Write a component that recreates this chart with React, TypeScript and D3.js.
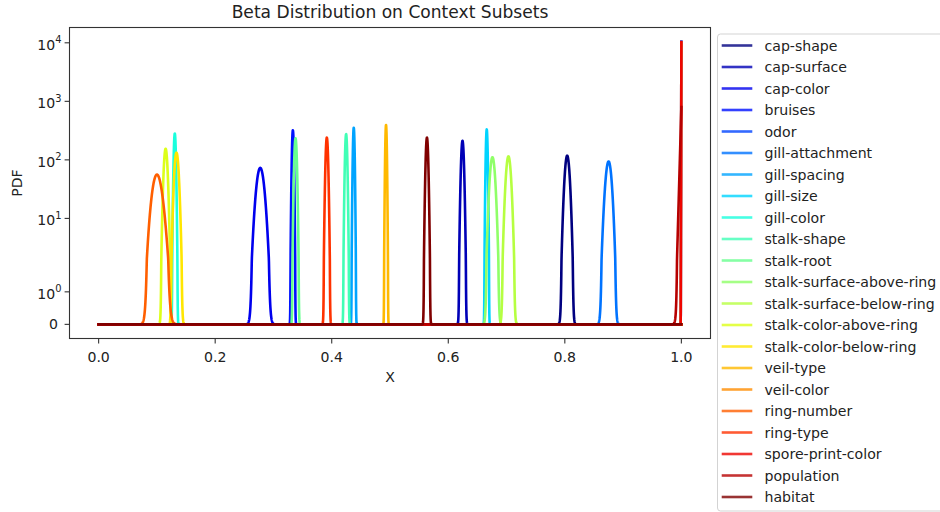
import React, { useMemo } from 'react';
import * as d3 from 'd3';

// ---- Data (Beta distribution parameters) ----
const features = [
  'cap-shape', 'cap-surface', 'cap-color', 'bruises', 'odor', 'gill-attachment',
  'gill-spacing', 'gill-size', 'gill-color', 'stalk-shape', 'stalk-root',
  'stalk-surface-above-ring', 'stalk-surface-below-ring', 'stalk-color-above-ring',
  'stalk-color-below-ring', 'veil-type', 'veil-color', 'ring-number', 'ring-type',
  'spore-print-color', 'population', 'habitat',
];
const alphas = [11085, 41353, 1862, 47950, 10470, 5313, 85325, 101985, 7420, 49306, 26009,
  11462, 12196, 1767, 1719, 120853, 10000, 179, 33766, 10300, 800, 50155];
const betas = [2702, 24875, 4850, 95910, 1, 759, 109571, 51145, 49350, 66791, 50962,
  5499, 5147, 13596, 11146, 124185, 1, 1602, 52459, 1, 1, 38867];

const xTicks = [0, 0.2, 0.4, 0.6, 0.8, 1.0];
const xTickLabels = ['0.0', '0.2', '0.4', '0.6', '0.8', '1.0'];
const yTicks = [0, 1, 10, 100, 1000, 10000];
const yTickBase = ['0', '10', '10', '10', '10', '10'];
const yTickExp = ['', '0', '1', '2', '3', '4'];

const TITLE = 'Beta Distribution on Context Subsets';
const XLABEL = 'X';
const YLABEL = 'PDF';

// ---- helpers ----
const LANCZOS = [0.99999999999980993, 676.5203681218851, -1259.1392167224028, 771.32342877765313,
  -176.61502916214059, 12.507343278686905, -0.13857109526572012, 9.9843695780195716e-6,
  1.5056327351493116e-7];
function lgamma(z: number): number {
  if (z < 0.5) return Math.log(Math.PI / Math.sin(Math.PI * z)) - lgamma(1 - z);
  z -= 1;
  let x = LANCZOS[0];
  for (let i = 1; i < 9; i++) x += LANCZOS[i] / (z + i);
  const t = z + 7.5;
  return 0.5 * Math.log(2 * Math.PI) + (z + 0.5) * Math.log(t) - t + Math.log(x);
}
function betaPdf(x: number, a: number, b: number): number {
  const lnB = lgamma(a) + lgamma(b) - lgamma(a + b);
  const t1 = a === 1 ? 0 : (a - 1) * Math.log(x);
  const t2 = b === 1 ? 0 : (b - 1) * Math.log(1 - x);
  const v = Math.exp(t1 + t2 - lnB);
  return isFinite(v) ? v : 0;
}
// matplotlib symlog (base 10, linthresh 2, linscale 1)
const LINTHRESH = 2;
const LINSCALE_ADJ = 1 / (1 - 1 / 10);
function symlog(v: number): number {
  const a = Math.abs(v);
  if (a <= LINTHRESH) return v * LINSCALE_ADJ;
  return Math.sign(v) * LINTHRESH * (LINSCALE_ADJ + Math.log10(a / LINTHRESH));
}
// jet colormap
const jetR = d3.scaleLinear<number>().domain([0, 0.35, 0.66, 0.89, 1]).range([0, 0, 1, 1, 0.5]).clamp(true);
const jetG = d3.scaleLinear<number>().domain([0, 0.125, 0.375, 0.64, 0.91, 1]).range([0, 0, 1, 1, 0, 0]).clamp(true);
const jetB = d3.scaleLinear<number>().domain([0, 0.11, 0.34, 0.65, 1]).range([0.5, 1, 1, 0, 0]).clamp(true);
const jet = (t: number) => d3.rgb(jetR(t) * 255, jetG(t) * 255, jetB(t) * 255).formatHex();

const W = 940, H = 512;
const PL = 69.5, PR = 710.5, PT = 27.5, PB = 338.5;
const FONT = '"DejaVu Sans", "Liberation Sans", sans-serif';
const N = 4000;
const FS = 14.1;

export default function App() {
  const { paths, yScale, xScale, colors } = useMemo(() => {
    const grid = d3.range(0, N + 1).map((i) => i / N);
    const curves = features.map((_, k) => grid.map((x) => [x, betaPdf(x, alphas[k], betas[k])] as [number, number]));
    const maxV = d3.max(curves, (c) => d3.max(c, (d) => d[1])) as number;
    const tMax = symlog(maxV);
    const tMin = 0;
    const span = tMax - tMin;
    const xScale = d3.scaleLinear().domain([-0.05, 1.05]).range([PL, PR]);
    const yScale = d3.scaleLinear().domain([tMin - 0.05 * span, tMax + 0.05 * span]).range([PB, PT]);
    const line = d3.line<[number, number]>().x((d) => xScale(d[0])).y((d) => yScale(symlog(d[1])));
    const paths = curves.map((c) => line(c) as string);
    const colors = features.map((_, i) => jet(i / (features.length - 1)));
    return { paths, yScale, xScale, colors };
  }, []);

  const legendX = 717.5, legendY = 34, legendRowH = 21.5;

  return (
    <svg width={W} height={H} style={{ position: 'absolute', left: 0, top: 0, background: '#fff' }}
      fontFamily={FONT}>
      <defs>
        <clipPath id="plotclip">
          <rect x={PL} y={PT} width={PR - PL} height={PB - PT} />
        </clipPath>
      </defs>
      <rect x={0} y={0} width={W} height={H} fill="#fff" />
      <g clipPath="url(#plotclip)">
        {paths.map((p, i) => (
          <path key={features[i]} d={p} fill="none" stroke={colors[i]} strokeWidth={2.6}
            strokeLinejoin="round" strokeLinecap="square" />
        ))}
      </g>
      {/* spines */}
      <rect x={PL} y={PT} width={PR - PL} height={PB - PT} fill="none" stroke="#333" strokeWidth={1.1} />
      {/* x ticks */}
      {xTicks.map((t, i) => (
        <g key={'xt' + i}>
          <line x1={xScale(t)} x2={xScale(t)} y1={PB} y2={PB + 4.9} stroke="#333" strokeWidth={1.1} />
          <text x={xScale(t)} y={361.5} fontSize={FS} textAnchor="middle" fill="#222">{xTickLabels[i]}</text>
        </g>
      ))}
      {/* y ticks */}
      {yTicks.map((t, i) => {
        const yy = yScale(symlog(t));
        return (
          <g key={'yt' + i}>
            <line x1={PL - 4.9} x2={PL} y1={yy} y2={yy} stroke="#333" strokeWidth={1.1} />
            {yTickExp[i] === '' ? (
              <text x={58} y={yy + 5} fontSize={FS} textAnchor="end" fill="#222">{yTickBase[i]}</text>
            ) : (
              <text x={61.5} y={yy + 7} fontSize={FS} textAnchor="end" fill="#222">
                {yTickBase[i]}
                <tspan fontSize={9.9} dy={-6.5}>{yTickExp[i]}</tspan>
              </text>
            )}
          </g>
        );
      })}
      {/* labels */}
      <text x={(PL + PR) / 2} y={18.3} fontSize={17.1} textAnchor="middle" fill="#222">{TITLE}</text>
      <text x={(PL + PR) / 2} y={381.5} fontSize={FS} textAnchor="middle" fill="#222">{XLABEL}</text>
      <text transform={`translate(21.5, ${(PT + PB) / 2}) rotate(-90)`} fontSize={FS} textAnchor="middle" fill="#222">{YLABEL}</text>
      {/* legend */}
      <rect x={legendX} y={legendY} width={240} height={477} rx={3} ry={3} fill="#fff" fillOpacity={0.8}
        stroke="#d3d3d3" strokeWidth={1} />
      {features.map((f, i) => {
        const yy = 45.5 + i * legendRowH;
        return (
          <g key={'lg' + f}>
            <line x1={721.7} x2={752.3} y1={yy} y2={yy} stroke={colors[i]} strokeWidth={2.6} strokeOpacity={0.8} />
            <text x={764.5} y={yy + 5} fontSize={FS} fill="#222">{f}</text>
          </g>
        );
      })}
    </svg>
  );
}
